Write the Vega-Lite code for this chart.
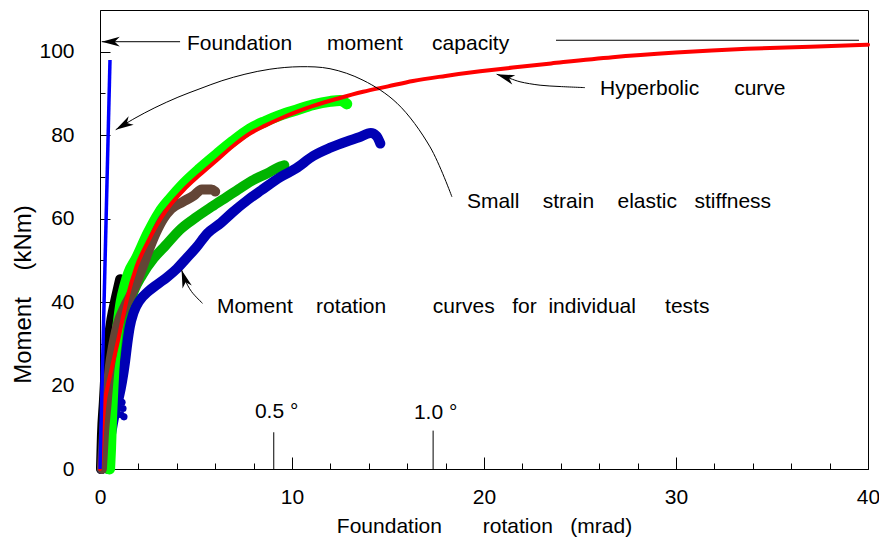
{
  "$schema": "https://vega.github.io/schema/vega-lite/v6.json",
  "width": 768,
  "height": 459,
  "autosize": "none",
  "padding": {"left": 100, "top": 10, "right": 11, "bottom": 70},
  "background": "white",
  "config": {
    "view": {"stroke": "black", "strokeWidth": 1},
    "axis": {"grid": false, "domainColor": "#000", "domainWidth": 1, "tickColor": "#000", "tickWidth": 1, "labelColor": "#000", "titleColor": "#000", "labelFont": "Liberation Sans", "titleFont": "Liberation Sans", "labelFontSize": 21, "titleFontSize": 21, "titleFontWeight": "normal"},
    "text": {"font": "Liberation Sans", "fontSize": 21}
  },
  "datasets": {
    "lg": [{"t":0.5,"m":0},{"t":0.55,"m":5},{"t":0.6,"m":12},{"t":0.68,"m":20},{"t":0.75,"m":26},{"t":0.85,"m":31},{"t":0.95,"m":35},{"t":1.1,"m":40},{"t":1.3,"m":44},{"t":1.5,"m":47},{"t":1.9,"m":50.5},{"t":2.5,"m":56.5},{"t":3.1,"m":61.5},{"t":3.7,"m":65},{"t":4.34,"m":68.3},{"t":5.2,"m":72},{"t":6.1,"m":75.5},{"t":6.9,"m":78.5},{"t":7.8,"m":81.5},{"t":8.6,"m":83.3},{"t":9.4,"m":84.8},{"t":10.2,"m":86},{"t":11.1,"m":87.3},{"t":12,"m":88.1},{"t":12.5,"m":88.3},{"t":12.85,"m":87.5}],
    "dg": [{"t":0.4,"m":0},{"t":0.6,"m":12},{"t":0.8,"m":22},{"t":1.1,"m":30},{"t":1.4,"m":37},{"t":1.75,"m":42.5},{"t":2.2,"m":46.5},{"t":2.8,"m":50.5},{"t":3.4,"m":53.5},{"t":4.2,"m":57.5},{"t":5.0,"m":60.3},{"t":5.8,"m":62.8},{"t":6.6,"m":65.2},{"t":7.3,"m":67.3},{"t":8.0,"m":69.3},{"t":8.7,"m":70.8},{"t":9.4,"m":72.5},{"t":9.6,"m":72.8}],
    "bk": [{"t":0.05,"m":0},{"t":0.1,"m":8},{"t":0.2,"m":16},{"t":0.3,"m":24},{"t":0.45,"m":31},{"t":0.6,"m":36},{"t":0.8,"m":40.5},{"t":0.95,"m":43.5},{"t":1.05,"m":45.5}],
    "br": [{"t":0.1,"m":0},{"t":0.2,"m":8},{"t":0.35,"m":16},{"t":0.5,"m":24},{"t":0.7,"m":30},{"t":0.95,"m":35},{"t":1.3,"m":39},{"t":1.7,"m":42.5},{"t":2.1,"m":47},{"t":2.5,"m":52},{"t":2.9,"m":56.5},{"t":3.3,"m":60},{"t":3.7,"m":62.3},{"t":4.3,"m":64},{"t":4.9,"m":65.6},{"t":5.3,"m":67},{"t":5.8,"m":67},{"t":6.0,"m":66.5}],
    "bl": [{"t":0.1,"m":0},{"t":0.4,"m":4},{"t":0.6,"m":9},{"t":0.8,"m":14},{"t":1.0,"m":17.5},{"t":1.15,"m":21},{"t":1.3,"m":25.5},{"t":1.42,"m":30},{"t":1.55,"m":34},{"t":1.75,"m":37.5},{"t":2.05,"m":40.3},{"t":2.5,"m":42.5},{"t":3.0,"m":44.3},{"t":3.5,"m":46},{"t":4.0,"m":48},{"t":4.5,"m":50.5},{"t":5.0,"m":53},{"t":5.6,"m":56.5},{"t":6.3,"m":59},{"t":6.9,"m":61.5},{"t":7.7,"m":64.5},{"t":8.4,"m":66.8},{"t":9.4,"m":70},{"t":10.2,"m":72},{"t":11.1,"m":75},{"t":12.0,"m":77},{"t":12.85,"m":78.5},{"t":13.5,"m":79.5},{"t":14.1,"m":80.5},{"t":14.4,"m":79.8},{"t":14.6,"m":78}],
    "bls": [{"t":1.1,"m":13},{"t":1.2,"m":14.5},{"t":1.25,"m":12.5},{"t":1.15,"m":16}],
    "red": [{"t":0,"m":0},{"t":0.05,"m":4},{"t":0.1,"m":8},{"t":0.17,"m":12.5},{"t":0.26,"m":16.5},{"t":0.4,"m":19.8},{"t":0.63,"m":24.5},{"t":0.95,"m":31},{"t":1.39,"m":40.5},{"t":1.9,"m":48.5},{"t":2.5,"m":54.5},{"t":3.13,"m":59.8},{"t":3.7,"m":63.5},{"t":4.34,"m":66.8},{"t":5.2,"m":70.5},{"t":6.08,"m":74},{"t":6.9,"m":77.3},{"t":7.81,"m":80.4},{"t":8.6,"m":82.3},{"t":9.4,"m":84},{"t":10.2,"m":85.5},{"t":11.1,"m":87},{"t":12.4,"m":88.8},{"t":13.7,"m":90.4},{"t":15,"m":91.7},{"t":16.3,"m":93},{"t":18,"m":94.2},{"t":19.8,"m":95.3},{"t":21.5,"m":96.2},{"t":23.5,"m":97.2},{"t":26.7,"m":98.7},{"t":30,"m":99.8},{"t":33.7,"m":100.7},{"t":37,"m":101.2},{"t":40,"m":101.7}],
    "stiff": [{"t":0,"m":0},{"t":0.52,"m":98}],
    "deg": [{"t":9.05,"m":0,"m2":8.8},{"t":17.35,"m":0,"m2":9.2}],
    "ann": [
      {"g":"cap","i":0,"t":0.09,"m":102.4},{"g":"cap","i":1,"t":4.17,"m":102.4},
      {"g":"capline","i":0,"t":23.75,"m":102.75},{"g":"capline","i":1,"t":39.53,"m":102.75},
      {"g":"hyp","i":0,"t":25.26,"m":91.4},{"g":"hyp","i":1,"t":23.96,"m":91.66},{"g":"hyp","i":2,"t":22.92,"m":91.98},{"g":"hyp","i":3,"t":21.875,"m":92.8},{"g":"hyp","i":4,"t":21.35,"m":93.6},{"g":"hyp","i":5,"t":20.66,"m":94.6},
      {"g":"ss","i":0,"t":18.33,"m":65.22},{"g":"ss","i":1,"t":17.19,"m":77.19},{"g":"ss","i":2,"t":15.47,"m":87.66},{"g":"ss","i":3,"t":13.7,"m":93.17},{"g":"ss","i":4,"t":11.98,"m":95.93},{"g":"ss","i":5,"t":10.42,"m":96.41},{"g":"ss","i":6,"t":8.85,"m":95.81},{"g":"ss","i":7,"t":7.55,"m":94.61},{"g":"ss","i":8,"t":6.35,"m":93.05},{"g":"ss","i":9,"t":5.21,"m":91.14},{"g":"ss","i":10,"t":4.06,"m":89.1},{"g":"ss","i":11,"t":2.86,"m":86.59},{"g":"ss","i":12,"t":1.82,"m":84.07},{"g":"ss","i":13,"t":0.82,"m":81.3},
      {"g":"mr","i":0,"t":5.34,"m":39.7},{"g":"mr","i":1,"t":4.77,"m":42.5},{"g":"mr","i":2,"t":4.43,"m":45.3},{"g":"mr","i":3,"t":4.25,"m":47.7}
    ],
    "heads": [{"t":0.09,"m":102.4,"a":180},{"t":20.66,"m":94.6,"a":198},{"t":0.82,"m":81.3,"a":149},{"t":4.25,"m":47.7,"a":252}],
    "labels": [
      {"t":4.53,"m":100.4,"label":"Foundation\u00a0\u00a0\u00a0\u00a0\u00a0\u00a0moment\u00a0\u00a0\u00a0\u00a0\u00a0capacity"},
      {"t":26.04,"m":89.6,"label":"Hyperbolic\u00a0\u00a0\u00a0\u00a0\u00a0\u00a0curve"},
      {"t":19.11,"m":62.5,"label":"Small\u00a0\u00a0\u00a0\u00a0strain\u00a0\u00a0\u00a0\u00a0elastic\u00a0\u00a0\u00a0stiffness"},
      {"t":6.09,"m":37.4,"label":"Moment\u00a0\u00a0\u00a0\u00a0rotation\u00a0\u00a0\u00a0\u00a0\u00a0\u00a0\u00a0\u00a0curves\u00a0\u00a0\u00a0for\u00a0\u00a0individual\u00a0\u00a0\u00a0\u00a0\u00a0tests"},
      {"t":8.07,"m":12.3,"label":"0.5\u00a0°"},
      {"t":16.35,"m":12.1,"label":"1.0\u00a0°"}
    ]
  },
  "encoding": {
    "x": {"field": "t", "type": "quantitative", "scale": {"domain": [0, 40], "nice": false, "zero": false}, "axis": null},
    "y": {"field": "m", "type": "quantitative", "scale": {"domain": [0, 110], "nice": false, "zero": false}, "axis": null}
  },
  "resolve": {"axis": {"x": "independent", "y": "independent"}},
  "layer": [
    {
      "data": {"name": "bk"},
      "mark": {"type": "line", "color": "#000000", "strokeWidth": 10, "strokeCap": "round", "strokeJoin": "round", "interpolate": "monotone"}
    },
    {
      "data": {"name": "dg"},
      "mark": {"type": "line", "color": "#00B400", "strokeWidth": 10, "strokeCap": "round", "strokeJoin": "round", "interpolate": "monotone"},
      "encoding": {
        "x": {"field": "t", "type": "quantitative", "scale": {"domain": [0, 40], "nice": false, "zero": false},
          "axis": {"orient": "bottom", "values": [2, 4, 6, 8, 12, 14, 16, 18, 22, 24, 26, 28, 32, 34, 36, 38], "tickSize": -6, "labels": false, "domain": false, "title": null}},
        "y": {"field": "m", "type": "quantitative", "scale": {"domain": [0, 110], "nice": false, "zero": false},
          "axis": {"orient": "left", "values": [10, 30, 50, 70, 90], "tickSize": -5, "labels": false, "domain": false, "title": null}}
      }
    },
    {
      "data": {"name": "bl"},
      "mark": {"type": "line", "color": "#0000B4", "strokeWidth": 10, "strokeCap": "round", "strokeJoin": "round", "interpolate": "monotone"}
    },
    {
      "data": {"name": "bls"},
      "mark": {"type": "point", "filled": true, "color": "#0000B4", "size": 50, "opacity": 1}
    },
    {
      "data": {"name": "lg"},
      "mark": {"type": "line", "color": "#00FF00", "strokeWidth": 11, "strokeCap": "round", "strokeJoin": "round", "interpolate": "monotone"},
      "encoding": {
        "x": {"field": "t", "type": "quantitative", "scale": {"domain": [0, 40], "nice": false, "zero": false},
          "axis": {"orient": "bottom", "values": [0, 10, 20, 30, 40], "format": "d", "tickSize": -12, "labelPadding": 29, "labelFlush": false, "labelOverlap": false, "title": "Foundation\u00a0\u00a0\u00a0\u00a0\u00a0\u00a0\u00a0rotation\u00a0\u00a0\u00a0(mrad)", "titlePadding": 8}},
        "y": {"field": "m", "type": "quantitative", "scale": {"domain": [0, 110], "nice": false, "zero": false},
          "axis": {"orient": "left", "values": [0, 20, 40, 60, 80, 100], "format": "d", "tickSize": -10, "labelPadding": 36, "labelFlush": false, "labelOverlap": false, "title": "Moment\u00a0\u00a0\u00a0\u00a0(kNm)", "titleFontSize": 24, "titlePadding": 3, "titleY": 284}}
      }
    },
    {
      "data": {"name": "br"},
      "mark": {"type": "line", "color": "#634536", "strokeWidth": 10, "strokeCap": "round", "strokeJoin": "round", "interpolate": "monotone"}
    },
    {
      "data": {"name": "red"},
      "mark": {"type": "line", "color": "#FF0000", "strokeWidth": 4, "strokeCap": "round", "strokeJoin": "round", "interpolate": "monotone"}
    },
    {
      "data": {"name": "stiff"},
      "mark": {"type": "line", "color": "#0000FF", "strokeWidth": 3.5}
    },
    {
      "data": {"name": "deg"},
      "mark": {"type": "rule", "color": "#000000", "strokeWidth": 1},
      "encoding": {
        "x": {"field": "t", "type": "quantitative", "scale": {"domain": [0, 40], "nice": false, "zero": false}, "axis": null},
        "y": {"field": "m", "type": "quantitative", "scale": {"domain": [0, 110], "nice": false, "zero": false}, "axis": null},
        "y2": {"field": "m2"}
      }
    },
    {
      "data": {"name": "ann"},
      "mark": {"type": "line", "color": "#000000", "strokeWidth": 1, "interpolate": "catmull-rom"},
      "encoding": {
        "x": {"field": "t", "type": "quantitative", "scale": {"domain": [0, 40], "nice": false, "zero": false}, "axis": null},
        "y": {"field": "m", "type": "quantitative", "scale": {"domain": [0, 110], "nice": false, "zero": false}, "axis": null},
        "detail": {"field": "g"},
        "order": {"field": "i", "type": "quantitative"}
      }
    },
    {
      "data": {"name": "heads"},
      "mark": {"type": "point", "filled": true, "color": "#000000", "opacity": 1, "shape": "M0,0L-1,-0.27L-0.72,0L-1,0.27Z", "size": 1296},
      "encoding": {
        "x": {"field": "t", "type": "quantitative", "scale": {"domain": [0, 40], "nice": false, "zero": false}, "axis": null},
        "y": {"field": "m", "type": "quantitative", "scale": {"domain": [0, 110], "nice": false, "zero": false}, "axis": null},
        "angle": {"field": "a", "type": "quantitative", "scale": null}
      }
    },
    {
      "data": {"name": "labels"},
      "mark": {"type": "text", "align": "left", "baseline": "alphabetic", "color": "#000000", "font": "Liberation Sans", "fontSize": 21},
      "encoding": {
        "x": {"field": "t", "type": "quantitative", "scale": {"domain": [0, 40], "nice": false, "zero": false}, "axis": null},
        "y": {"field": "m", "type": "quantitative", "scale": {"domain": [0, 110], "nice": false, "zero": false}, "axis": null},
        "text": {"field": "label"}
      }
    }
  ]
}
